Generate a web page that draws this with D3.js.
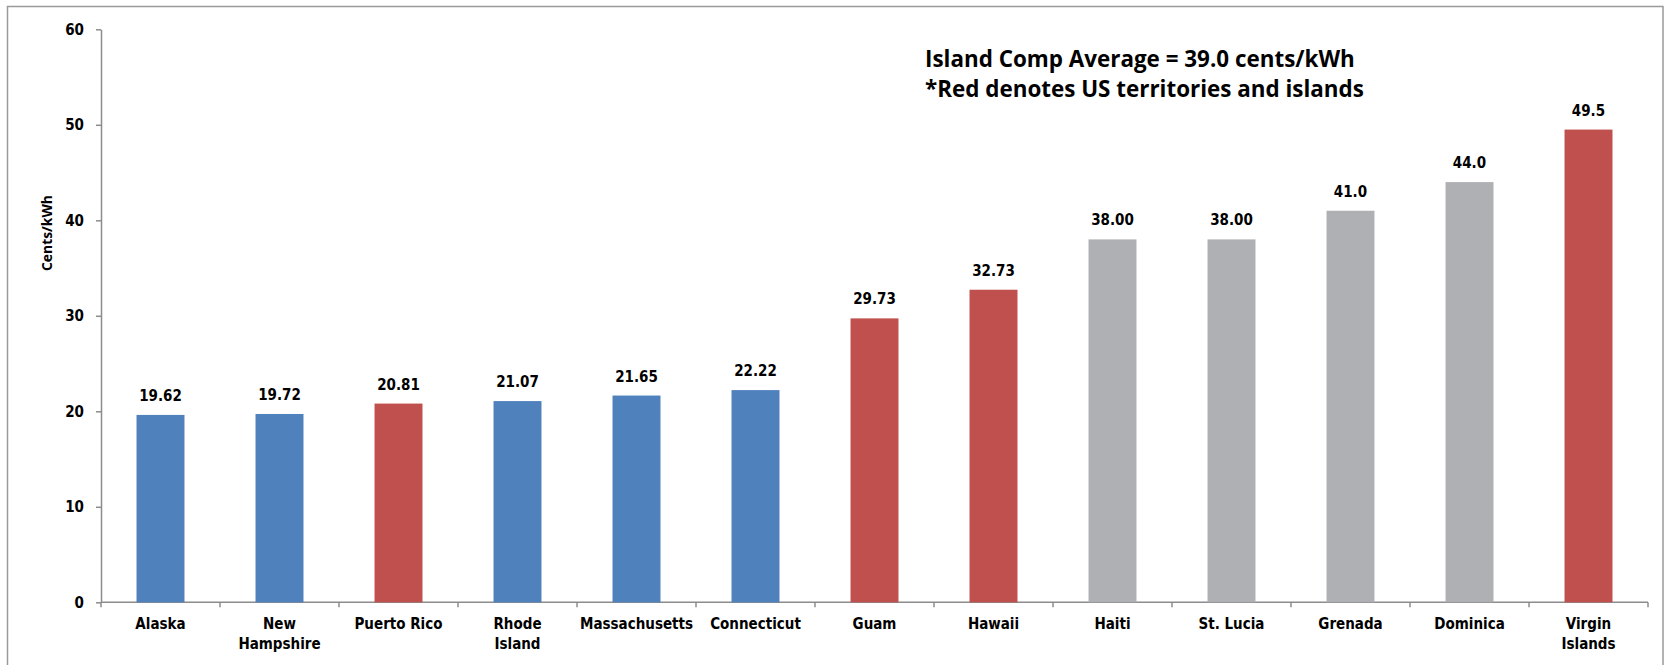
<!DOCTYPE html>
<html>
<head>
<meta charset="utf-8">
<script src="https://cdn.jsdelivr.net/npm/d3@7"></script>
<style>
  html, body { margin: 0; padding: 0; background: #fff; }
  svg { display: block; }
  .tick text { font-family: "DejaVu Sans Condensed", "DejaVu Sans", sans-serif; font-stretch: condensed; font-weight: bold; font-size: 15px; fill: #000; }
  .axis path, .axis line { stroke: #8c8c8c; stroke-width: 1.5; }
</style>
</head>
<body>
<svg id="chart" width="1673" height="665"></svg>
<script>
// Residential electricity prices, cents per kWh
const places = ["Alaska", "New Hampshire", "Puerto Rico", "Rhode Island", "Massachusetts",
  "Connecticut", "Guam", "Hawaii", "Haiti", "St. Lucia", "Grenada", "Dominica", "Virgin Islands"];
const prices = [19.62, 19.72, 20.81, 21.07, 21.65, 22.22, 29.73, 32.73, 38.00, 38.00, 41.0, 44.0, 49.5];
const priceLabels = ["19.62", "19.72", "20.81", "21.07", "21.65", "22.22", "29.73", "32.73",
  "38.00", "38.00", "41.0", "44.0", "49.5"];
// group: "state" = US state, "us" = US territory or island, "intl" = other islands
const groups = ["state", "state", "us", "state", "state", "state", "us", "us",
  "intl", "intl", "intl", "intl", "us"];
// Category labels split onto lines as printed under the axis
const labelLines = [["Alaska"], ["New", "Hampshire"], ["Puerto Rico"], ["Rhode", "Island"],
  ["Massachusetts"], ["Connecticut"], ["Guam"], ["Hawaii"], ["Haiti"], ["St. Lucia"],
  ["Grenada"], ["Dominica"], ["Virgin", "Islands"]];
const yTicks = [0, 10, 20, 30, 40, 50, 60];
const noteLines = ["Island Comp Average = 39.0 cents/kWh", "*Red denotes US territories and islands"];

const colorOf = { state: "#4f81bd", us: "#c0504d", intl: "#afb0b3" };
const labelFont = "'DejaVu Sans Condensed', 'DejaVu Sans', sans-serif";
const noteFont = "'Open Sans', Lato, sans-serif";

const svg = d3.select("#chart");

// scale a text's font size so that it spans the given width
function fitWidth(sel, base, width) {
  sel.attr("font-size", base);
  const w = sel.node().getComputedTextLength();
  if (w > 0) sel.attr("font-size", base * width / w);
  return sel;
}

// outer frame
svg.append("rect")
  .attr("x", 7.5).attr("y", 6.5)
  .attr("width", 1655.5).attr("height", 680)
  .attr("fill", "none").attr("stroke", "#9a9a9a").attr("stroke-width", 1.5);

const x = d3.scaleBand()
  .domain(places)
  .range([101, 1648])
  .paddingInner(0.597)
  .paddingOuter(0.2985);

const y = d3.scaleLinear().domain([0, 60]).range([602.3, 29.3]);

// y axis
svg.append("g")
  .attr("class", "axis")
  .attr("transform", "translate(101,0)")
  .call(d3.axisLeft(y).tickValues(yTicks).tickSize(5).tickPadding(12).tickSizeOuter(0));

// x axis with ticks between categories
const step = x.step();
const xAxisG = svg.append("g").attr("class", "axis");
xAxisG.append("line")
  .attr("x1", 101).attr("x2", 1648)
  .attr("y1", y(0)).attr("y2", y(0));
d3.range(places.length + 1).forEach(i => {
  const px = 101 + i * step;
  xAxisG.append("line")
    .attr("x1", px).attr("x2", px)
    .attr("y1", y(0)).attr("y2", y(0) + 5);
});

// bars
svg.append("g").selectAll("rect")
  .data(places)
  .join("rect")
  .attr("x", d => x(d))
  .attr("width", x.bandwidth())
  .attr("y", (d, i) => y(prices[i]))
  .attr("height", (d, i) => y(0) - y(prices[i]))
  .attr("fill", (d, i) => colorOf[groups[i]]);

// value labels
svg.append("g").selectAll("text")
  .data(places)
  .join("text")
  .attr("x", d => x(d) + x.bandwidth() / 2)
  .attr("y", (d, i) => y(prices[i]) - 14)
  .attr("text-anchor", "middle")
  .attr("font-family", labelFont)
  .attr("font-stretch", "condensed")
  .attr("font-weight", "bold")
  .attr("font-size", 15)
  .text((d, i) => priceLabels[i]);

// category labels
const cat = svg.append("g").selectAll("text")
  .data(places)
  .join("text")
  .attr("x", d => x(d) + x.bandwidth() / 2)
  .attr("y", y(0) + 27)
  .attr("text-anchor", "middle")
  .attr("font-family", labelFont)
  .attr("font-stretch", "condensed")
  .attr("font-weight", "bold")
  .attr("font-size", 15);
cat.each(function(d, i) {
  const t = d3.select(this);
  labelLines[i].forEach((ln, k) => {
    t.append("tspan")
      .attr("x", x(d) + x.bandwidth() / 2)
      .attr("dy", k === 0 ? 0 : 20)
      .text(ln);
  });
});

// y axis title
const yTitle = svg.append("text")
  .attr("transform", "translate(52,233) rotate(-90)")
  .attr("text-anchor", "middle")
  .attr("font-family", noteFont)
  .attr("font-weight", "bold")
  .text("Cents/kWh");
fitWidth(yTitle, 14, 76);

// note
const notes = svg.append("g").selectAll("text")
  .data(noteLines)
  .join("text")
  .attr("x", 925)
  .attr("y", (d, i) => 67 + i * 30)
  .attr("font-family", noteFont)
  .attr("font-weight", "bold")
  .text(d => d);
fitWidth(notes.filter((d, i) => i === 0), 20, 430);
notes.filter((d, i) => i === 1).attr("font-size", notes.filter((d, i) => i === 0).attr("font-size"));
</script>
</body>
</html>
